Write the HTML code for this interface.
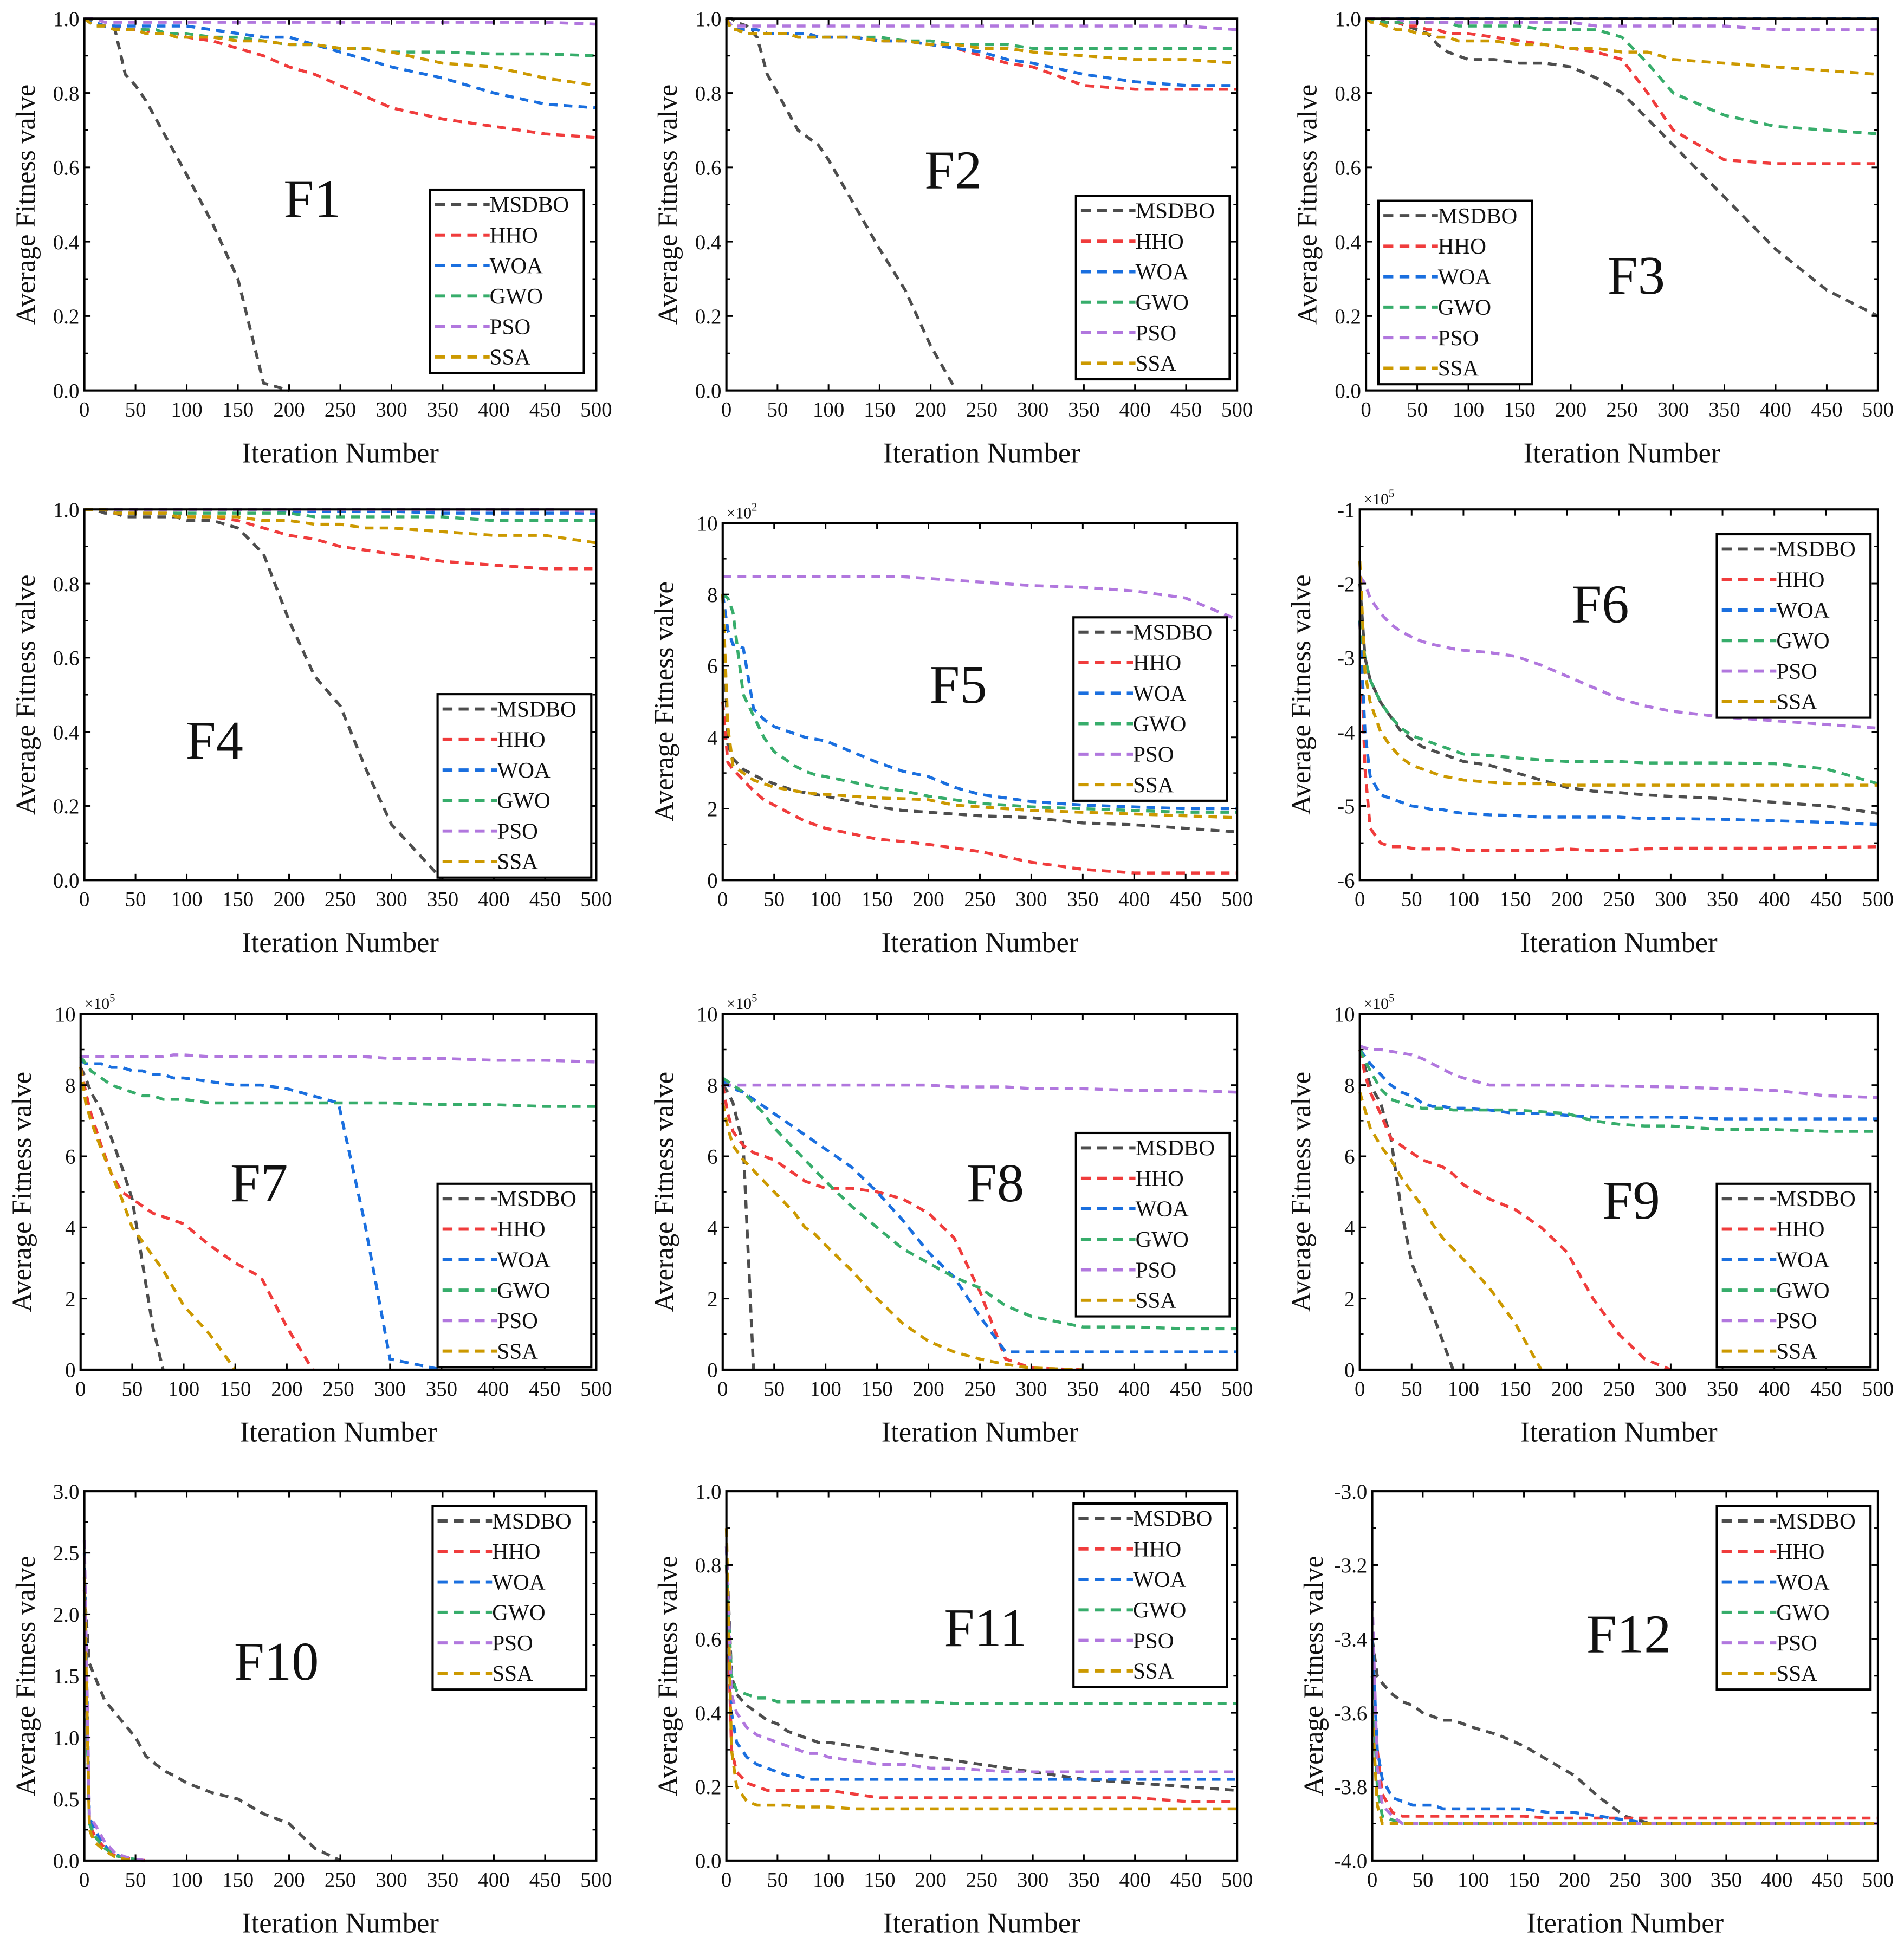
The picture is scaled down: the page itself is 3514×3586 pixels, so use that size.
<!DOCTYPE html>
<html><head><meta charset="utf-8"><title>Convergence curves F1-F12</title>
<style>
html,body{margin:0;padding:0;background:#fff;}
svg{display:block;font-family:"Liberation Serif","DejaVu Serif",serif;}
svg text{font-family:"Liberation Serif","DejaVu Serif",serif;fill:#111;}
</style></head>
<body>
<svg id="chart" xmlns="http://www.w3.org/2000/svg" width="3514" height="3586" viewBox="0 0 1536 1567.5" font-family="Liberation Serif, DejaVu Serif, serif"></svg>
<script>
// shared iteration grid
const ITERS = [0,5,10,20,30,40,50,60,70,80,90,100,125,150,175,200,225,250,275,300,350,400,450,500];
const SERIES_NAMES = ["MSDBO","HHO","WOA","GWO","PSO","SSA"];
const X_TICKS = [0,50,100,150,200,250,300,350,400,450,500];

const F1_MSDBO=[1,1,.99,.98,.97,.85,.82,.78,.73,.68,.63,.58,.45,.3,0.02,0,0,0,0,0,0,0,0,0];
const F1_HHO=[1,.99,.99,.98,.98,.97,.97,.97,.96,.96,.96,.95,.94,.92,.9,.87,.85,.82,.79,.76,.73,.71,.69,.68];
const F1_WOA=[1,.99,.99,.98,.98,.98,.98,.98,.98,.98,.98,.98,.97,.96,.95,.95,.93,.91,.89,.87,.84,.8,.77,.76];
const F1_GWO=[1,.99,.98,.98,.97,.97,.97,.97,.97,.96,.96,.96,.95,.95,.94,.93,.93,.92,.92,.91,.91,.905,.905,.9];
const F1_PSO=[1,1,1,.99,.99,.99,.99,.99,.99,.99,.99,.99,.99,.99,.99,.99,.99,.99,.99,.99,.99,.99,.99,.985];
const F1_SSA=[1,.99,.98,.98,.97,.97,.97,.96,.96,.96,.95,.95,.95,.94,.94,.93,.93,.92,.92,.91,.88,.87,.84,.82];

const F2_MSDBO=[1,1,.99,.98,.95,.85,.8,.75,.7,.68,.66,.62,.5,.38,.27,.12,0,0,0,0,0,0,0,0];
const F2_HHO=[1,.98,.97,.97,.97,.96,.96,.96,.96,.96,.95,.95,.95,.94,.94,.93,.92,.9,.88,.87,.82,.81,.81,.81];
const F2_WOA=[1,.98,.97,.97,.97,.96,.96,.96,.96,.96,.95,.95,.95,.94,.94,.93,.92,.91,.89,.88,.85,.83,.82,.82];
const F2_GWO=[1,.97,.97,.96,.96,.96,.96,.96,.95,.95,.95,.95,.95,.95,.94,.94,.93,.93,.93,.92,.92,.92,.92,.92];
const F2_PSO=[1,.98,.98,.98,.98,.98,.98,.98,.98,.98,.98,.98,.98,.98,.98,.98,.98,.98,.98,.98,.98,.98,.98,.97];
const F2_SSA=[1,.97,.97,.96,.96,.96,.96,.96,.95,.95,.95,.95,.95,.94,.94,.93,.93,.92,.92,.91,.9,.89,.89,.88];

const F3_MSDBO=[1,1,1,.99,.99,.98,.97,.96,.93,.91,.9,.89,.89,.88,.88,.87,.84,.8,.73,.66,.52,.38,.27,.2];
const F3_HHO=[1,1,.99,.99,.99,.98,.98,.97,.97,.96,.96,.96,.95,.94,.93,.92,.91,.89,.8,.7,.62,.61,.61,.61];
const F3_WOA=[1,1,1,1,1,1,1,1,1,1,1,1,1,1,1,1,1,1,1,1,1,1,1,1];
const F3_GWO=[1,1,.99,.99,.99,.99,.99,.99,.99,.99,.98,.98,.98,.98,.97,.97,.97,.95,.88,.8,.74,.71,.7,.69];
const F3_PSO=[1,1,1,1,1,.99,.99,.99,.99,.99,.99,.99,.99,.99,.99,.99,.98,.98,.98,.98,.98,.97,.97,.97];
const F3_SSA=[1,.99,.99,.98,.97,.97,.96,.96,.95,.95,.94,.94,.94,.93,.93,.92,.92,.91,.91,.89,.88,.87,.86,.85];

const F4_MSDBO=[1,1,1,.99,.99,.98,.98,.98,.98,.98,.98,.97,.97,.95,.88,.7,.55,.47,.3,.15,0,0,0,0];
const F4_HHO=[1,1,1,1,.99,.99,.99,.99,.99,.99,.99,.98,.98,.97,.95,.93,.92,.9,.89,.88,.86,.85,.84,.84];
const F4_WOA=[1,1,1,1,1,1,1,1,1,1,1,1,1,1,1,.995,.995,.995,.995,.995,.99,.99,.99,.99];
const F4_GWO=[1,1,1,1,1,.99,.99,.99,.99,.99,.99,.99,.99,.99,.99,.99,.98,.98,.98,.98,.98,.97,.97,.97];
const F4_PSO=[1,1,1,1,1,1,1,1,1,1,1,1,1,1,1,1,1,1,1,1,1,1,1,.995];
const F4_SSA=[1,1,1,1,.99,.99,.99,.99,.99,.99,.98,.98,.98,.98,.97,.97,.96,.96,.95,.95,.94,.93,.93,.91];

const F5_MSDBO=[8,3.8,3.4,3.1,2.95,2.8,2.7,2.6,2.5,2.45,2.4,2.35,2.2,2.05,1.95,1.9,1.85,1.8,1.78,1.75,1.6,1.55,1.45,1.35];
const F5_HHO=[5,3.3,3.1,2.8,2.5,2.25,2.1,1.95,1.8,1.65,1.55,1.45,1.3,1.15,1.08,1.0,0.9,0.8,0.65,0.5,0.3,0.2,0.2,0.2];
const F5_WOA=[8,7.0,6.6,6.5,4.8,4.5,4.3,4.2,4.1,4.0,3.95,3.9,3.6,3.3,3.05,2.9,2.6,2.4,2.3,2.2,2.1,2.05,2.0,2.0];
const F5_GWO=[8,7.9,7.5,5.2,4.6,4.0,3.6,3.4,3.2,3.05,2.95,2.9,2.75,2.6,2.5,2.35,2.25,2.15,2.1,2.05,2.0,1.95,1.9,1.9];
const F5_PSO=[8.5,8.5,8.5,8.5,8.5,8.5,8.5,8.5,8.5,8.5,8.5,8.5,8.5,8.5,8.5,8.45,8.4,8.35,8.3,8.25,8.2,8.1,7.9,7.3];
const F5_SSA=[8,4.3,3.2,3.0,2.8,2.7,2.6,2.55,2.5,2.45,2.42,2.4,2.35,2.3,2.28,2.25,2.1,2.05,2.0,1.95,1.9,1.85,1.8,1.75];

const F6_MSDBO=[-2,-3,-3.3,-3.6,-3.8,-4.0,-4.1,-4.2,-4.25,-4.3,-4.35,-4.4,-4.45,-4.55,-4.65,-4.75,-4.8,-4.82,-4.85,-4.87,-4.9,-4.95,-5.0,-5.1];
const F6_HHO=[-2.5,-4.5,-5.3,-5.5,-5.55,-5.55,-5.57,-5.58,-5.58,-5.58,-5.58,-5.6,-5.6,-5.6,-5.6,-5.58,-5.6,-5.6,-5.58,-5.57,-5.57,-5.57,-5.56,-5.55];
const F6_WOA=[-2.5,-4,-4.6,-4.85,-4.9,-4.95,-5.0,-5.02,-5.05,-5.05,-5.08,-5.1,-5.12,-5.13,-5.15,-5.15,-5.15,-5.15,-5.17,-5.17,-5.18,-5.2,-5.22,-5.25];
const F6_GWO=[-2.5,-3.0,-3.3,-3.6,-3.8,-3.95,-4.05,-4.1,-4.15,-4.2,-4.25,-4.3,-4.32,-4.35,-4.38,-4.4,-4.4,-4.4,-4.42,-4.42,-4.42,-4.43,-4.5,-4.7];
const F6_PSO=[-1.9,-2.0,-2.2,-2.4,-2.55,-2.65,-2.72,-2.78,-2.82,-2.85,-2.88,-2.9,-2.93,-2.98,-3.1,-3.25,-3.4,-3.55,-3.65,-3.72,-3.8,-3.85,-3.9,-3.95];
const F6_SSA=[-1.7,-3.2,-3.6,-4.0,-4.2,-4.35,-4.45,-4.5,-4.55,-4.6,-4.62,-4.65,-4.68,-4.7,-4.7,-4.72,-4.72,-4.72,-4.72,-4.72,-4.72,-4.72,-4.72,-4.72];

const F7_MSDBO=[8.5,8.2,7.8,7.3,6.5,5.7,4.8,3.0,1.2,0,0,0,0,0,0,0,0,0,0,0,0,0,0,0];
const F7_HHO=[8.5,7.8,7.2,6.3,5.5,5.0,4.8,4.6,4.4,4.3,4.2,4.1,3.5,3.0,2.6,1.2,0,0,0,0,0,0,0,0];
const F7_WOA=[8.7,8.6,8.6,8.6,8.5,8.5,8.4,8.4,8.3,8.3,8.2,8.2,8.1,8.0,8.0,7.9,7.7,7.5,4.2,0.3,0,0,0,0];
const F7_GWO=[8.8,8.6,8.4,8.2,8.0,7.9,7.8,7.7,7.7,7.6,7.6,7.6,7.5,7.5,7.5,7.5,7.5,7.5,7.5,7.5,7.45,7.45,7.4,7.4];
const F7_PSO=[8.8,8.8,8.8,8.8,8.8,8.8,8.8,8.8,8.8,8.8,8.85,8.85,8.8,8.8,8.8,8.8,8.8,8.8,8.8,8.75,8.75,8.7,8.7,8.65];
const F7_SSA=[8.5,7.5,7.0,6.2,5.5,4.8,4.0,3.6,3.2,2.8,2.3,1.8,1.0,0,0,0,0,0,0,0,0,0,0,0];

const F8_MSDBO=[8,7.8,7.5,6.3,0,0,0,0,0,0,0,0,0,0,0,0,0,0,0,0,0,0,0,0];
const F8_HHO=[8,7.2,6.7,6.3,6.1,6.0,5.9,5.7,5.5,5.3,5.2,5.1,5.1,5.0,4.8,4.4,3.7,2.2,0.3,0.05,0,0,0,0];
const F8_WOA=[8.1,8.0,7.9,7.8,7.6,7.4,7.2,7.0,6.8,6.6,6.4,6.2,5.7,5.0,4.2,3.3,2.6,1.5,0.5,0.5,0.5,0.5,0.5,0.5];
const F8_GWO=[8.2,8.1,8.0,7.8,7.5,7.2,6.8,6.5,6.2,5.9,5.6,5.3,4.6,4.0,3.4,3.0,2.6,2.3,1.8,1.5,1.2,1.2,1.15,1.15];
const F8_PSO=[8.0,8.0,8.0,8.0,8.0,8.0,8.0,8.0,8.0,8.0,8.0,8.0,8.0,8.0,8.0,8.0,7.95,7.95,7.95,7.9,7.9,7.85,7.85,7.8];
const F8_SSA=[7.5,6.8,6.3,5.9,5.6,5.3,5.0,4.7,4.4,4.0,3.8,3.5,2.8,2.0,1.3,0.8,0.5,0.3,0.15,0.05,0,0,0,0];

const F9_MSDBO=[9,8.5,8.0,7.5,6.5,4.5,3.0,2.3,1.6,0.8,0,0,0,0,0,0,0,0,0,0,0,0,0,0];
const F9_HHO=[9,8.3,7.8,7.2,6.5,6.3,6.1,5.9,5.8,5.7,5.5,5.2,4.8,4.5,4.0,3.3,2.0,1.0,0.3,0,0,0,0,0];
const F9_WOA=[9,8.8,8.6,8.3,8.0,7.8,7.7,7.5,7.4,7.4,7.35,7.35,7.3,7.2,7.2,7.15,7.1,7.1,7.1,7.1,7.05,7.05,7.05,7.05];
const F9_GWO=[9,8.7,8.4,7.9,7.6,7.5,7.4,7.35,7.35,7.35,7.3,7.3,7.3,7.3,7.25,7.2,7.0,6.9,6.85,6.85,6.75,6.75,6.7,6.7];
const F9_PSO=[9.1,9.05,9.0,9.0,8.95,8.9,8.85,8.75,8.6,8.45,8.3,8.2,8.0,8.0,8.0,8.0,7.98,7.97,7.96,7.95,7.9,7.85,7.7,7.65];
const F9_SSA=[7.8,7.3,6.8,6.3,5.9,5.4,5.0,4.6,4.1,3.7,3.4,3.1,2.3,1.3,0,0,0,0,0,0,0,0,0,0];

const F10_MSDBO=[2.2,1.6,1.5,1.3,1.2,1.1,1.0,0.85,0.78,0.72,0.68,0.63,0.55,0.5,0.38,0.3,0.1,0,0,0,0,0,0,0];
const F10_HHO=[2.2,0.3,0.2,0.1,0.04,0.02,0.01,0,0,0,0,0,0,0,0,0,0,0,0,0,0,0,0,0];
const F10_WOA=[2.5,0.35,0.25,0.12,0.05,0.02,0.01,0,0,0,0,0,0,0,0,0,0,0,0,0,0,0,0,0];
const F10_GWO=[2.0,0.3,0.2,0.1,0.04,0.02,0.01,0,0,0,0,0,0,0,0,0,0,0,0,0,0,0,0,0];
const F10_PSO=[2.6,0.35,0.3,0.15,0.06,0.03,0.01,0,0,0,0,0,0,0,0,0,0,0,0,0,0,0,0,0];
const F10_SSA=[2.3,0.25,0.15,0.08,0.03,0.01,0,0,0,0,0,0,0,0,0,0,0,0,0,0,0,0,0,0];

const F11_MSDBO=[.85,.5,.45,.42,.4,.38,.37,.35,.34,.33,.32,.32,.31,.3,.29,.28,.27,.26,.25,.24,.22,.21,.2,.19];
const F11_HHO=[.8,.3,.24,.21,.2,.19,.19,.19,.19,.19,.19,.19,.18,.17,.17,.17,.17,.17,.17,.17,.17,.17,.16,.16];
const F11_WOA=[.85,.4,.32,.28,.26,.25,.24,.23,.23,.22,.22,.22,.22,.22,.22,.22,.22,.22,.22,.22,.22,.22,.22,.22];
const F11_GWO=[.8,.5,.46,.45,.44,.44,.43,.43,.43,.43,.43,.43,.43,.43,.43,.43,.425,.425,.425,.425,.425,.425,.425,.425];
const F11_PSO=[.85,.45,.4,.36,.34,.33,.32,.31,.3,.29,.29,.28,.27,.26,.26,.25,.25,.245,.24,.24,.24,.24,.24,.24];
const F11_SSA=[.9,.3,.2,.16,.15,.15,.15,.15,.145,.145,.145,.145,.14,.14,.14,.14,.14,.14,.14,.14,.14,.14,.14,.14];

const F12_MSDBO=[-3.4,-3.5,-3.52,-3.55,-3.57,-3.58,-3.6,-3.61,-3.62,-3.62,-3.63,-3.64,-3.66,-3.69,-3.73,-3.77,-3.83,-3.88,-3.9,-3.9,-3.9,-3.9,-3.9,-3.9];
const F12_HHO=[-3.5,-3.7,-3.82,-3.87,-3.88,-3.88,-3.88,-3.88,-3.88,-3.88,-3.88,-3.88,-3.88,-3.88,-3.885,-3.885,-3.885,-3.885,-3.885,-3.885,-3.885,-3.885,-3.885,-3.885];
const F12_WOA=[-3.4,-3.7,-3.78,-3.83,-3.84,-3.85,-3.85,-3.85,-3.86,-3.86,-3.86,-3.86,-3.86,-3.86,-3.87,-3.87,-3.88,-3.89,-3.9,-3.9,-3.9,-3.9,-3.9,-3.9];
const F12_GWO=[-3.5,-3.8,-3.88,-3.89,-3.9,-3.9,-3.9,-3.9,-3.9,-3.9,-3.9,-3.9,-3.9,-3.9,-3.9,-3.9,-3.9,-3.9,-3.9,-3.9,-3.9,-3.9,-3.9,-3.9];
const F12_PSO=[-3.3,-3.75,-3.85,-3.88,-3.9,-3.9,-3.9,-3.9,-3.9,-3.9,-3.9,-3.9,-3.9,-3.9,-3.9,-3.9,-3.9,-3.9,-3.9,-3.9,-3.9,-3.9,-3.9,-3.9];
const F12_SSA=[-3.6,-3.85,-3.9,-3.9,-3.9,-3.9,-3.9,-3.9,-3.9,-3.9,-3.9,-3.9,-3.9,-3.9,-3.9,-3.9,-3.9,-3.9,-3.9,-3.9,-3.9,-3.9,-3.9,-3.9];

const TICKS_01 = ["0.0","0.2","0.4","0.6","0.8","1.0"];
const TICKS_010 = ["0","2","4","6","8","10"];
const TICKS_F6 = ["-6","-5","-4","-3","-2","-1"];
const TICKS_F10 = ["0.0","0.5","1.0","1.5","2.0","2.5","3.0"];
const TICKS_F12 = ["-4.0","-3.8","-3.6","-3.4","-3.2","-3.0"];

const COLORS = ["#4d4d4d","#f03c3c","#1a6fdf","#37ad6b","#b177de","#cc9900"];

const PANELS = [
 {id:"F1",x0:68,x1:481,y0:15,y1:315,ymin:0,ymax:1,ticks:TICKS_01,data:[F1_MSDBO,F1_HHO,F1_WOA,F1_GWO,F1_PSO,F1_SSA],lg:[347,153],lab:[252,175]},
 {id:"F2",x0:586,x1:998,y0:15,y1:315,ymin:0,ymax:1,ticks:TICKS_01,data:[F2_MSDBO,F2_HHO,F2_WOA,F2_GWO,F2_PSO,F2_SSA],lg:[868,158],lab:[769,152]},
 {id:"F3",x0:1102,x1:1515,y0:15,y1:315,ymin:0,ymax:1,ticks:TICKS_01,data:[F3_MSDBO,F3_HHO,F3_WOA,F3_GWO,F3_PSO,F3_SSA],lg:[1112,162],lab:[1320,237]},
 {id:"F4",x0:68,x1:481,y0:411,y1:710,ymin:0,ymax:1,ticks:TICKS_01,data:[F4_MSDBO,F4_HHO,F4_WOA,F4_GWO,F4_PSO,F4_SSA],lg:[353,560],lab:[173,612]},
 {id:"F5",x0:583,x1:998,y0:422,y1:710,ymin:0,ymax:10,ticks:TICKS_010,mult:"2",data:[F5_MSDBO,F5_HHO,F5_WOA,F5_GWO,F5_PSO,F5_SSA],lg:[866,498],lab:[773,567]},
 {id:"F6",x0:1097,x1:1515,y0:411,y1:710,ymin:-6,ymax:-1,ticks:TICKS_F6,mult:"5",data:[F6_MSDBO,F6_HHO,F6_WOA,F6_GWO,F6_PSO,F6_SSA],lg:[1385,431],lab:[1291,502]},
 {id:"F7",x0:65,x1:481,y0:818,y1:1105,ymin:0,ymax:10,ticks:TICKS_010,mult:"5",data:[F7_MSDBO,F7_HHO,F7_WOA,F7_GWO,F7_PSO,F7_SSA],lg:[353,955],lab:[209,969]},
 {id:"F8",x0:583,x1:998,y0:818,y1:1105,ymin:0,ymax:10,ticks:TICKS_010,mult:"5",data:[F8_MSDBO,F8_HHO,F8_WOA,F8_GWO,F8_PSO,F8_SSA],lg:[868,914],lab:[803,969]},
 {id:"F9",x0:1097,x1:1515,y0:818,y1:1105,ymin:0,ymax:10,ticks:TICKS_010,mult:"5",data:[F9_MSDBO,F9_HHO,F9_WOA,F9_GWO,F9_PSO,F9_SSA],lg:[1385,955],lab:[1316,983]},
 {id:"F10",x0:68,x1:481,y0:1203,y1:1501,ymin:0,ymax:3,ticks:TICKS_F10,data:[F10_MSDBO,F10_HHO,F10_WOA,F10_GWO,F10_PSO,F10_SSA],lg:[349,1215],lab:[223,1355]},
 {id:"F11",x0:586,x1:998,y0:1203,y1:1501,ymin:0,ymax:1,ticks:TICKS_01,data:[F11_MSDBO,F11_HHO,F11_WOA,F11_GWO,F11_PSO,F11_SSA],lg:[866,1213],lab:[795,1328]},
 {id:"F12",x0:1107,x1:1515,y0:1203,y1:1501,ymin:-4,ymax:-3,ticks:TICKS_F12,data:[F12_MSDBO,F12_HHO,F12_WOA,F12_GWO,F12_PSO,F12_SSA],lg:[1385,1215],lab:[1314,1333]}
];

const NS = "http://www.w3.org/2000/svg";
const FONT = "Liberation Serif, DejaVu Serif, serif";
const svg = document.getElementById("chart");
function mk(tag, attrs, parent){
  const e = document.createElementNS(NS, tag);
  for (const k in attrs) e.setAttribute(k, attrs[k]);
  if (tag === "text") e.setAttribute("font-family", FONT);
  (parent||svg).appendChild(e);
  return e;
}

PANELS.forEach(function(p){
  const key = p.id.toLowerCase();
  const g = mk("g", {});
  
  
  const xs = function(v){ return p.x0 + (v/500)*(p.x1-p.x0); };
  const ys = function(v){ return p.y1 - (v-p.ymin)/(p.ymax-p.ymin)*(p.y1-p.y0); };

  // series (stop at the first zero value, as in the original)
  p.data.forEach(function(vals, si){
    let d = "";
    for (let i = 0; i < vals.length; i++){
      d += (i?"L":"M") + xs(ITERS[i]).toFixed(2) + "," + ys(vals[i]).toFixed(2);
      if (p.ymin === 0 && vals[i] === 0) break;
    }
    const path = mk("path", {d:d, fill:"none", stroke:COLORS[si], "stroke-width":2.4, "stroke-dasharray":"7,5"}, g);
    
    
  });

  // frame
  const frame = mk("rect", {x:p.x0, y:p.y0, width:p.x1-p.x0, height:p.y1-p.y0, fill:"none", stroke:"#000", "stroke-width":1.8}, g);
  
  

  // x ticks
  const xt = mk("g", {}, g);
  
  
  X_TICKS.forEach(function(t){
    const x = xs(t);
    mk("line", {x1:x, y1:p.y1, x2:x, y2:p.y1-5, stroke:"#000", "stroke-width":1.3}, xt);
    mk("line", {x1:x, y1:p.y0, x2:x, y2:p.y0+5, stroke:"#000", "stroke-width":1.3}, xt);
    const tl = mk("text", {x:x, y:p.y1+21, "text-anchor":"middle", "font-size":17}, xt);
    tl.textContent = t;
    
    
  });
  const xl = mk("text", {x:(p.x0+p.x1)/2, y:p.y1+58, "text-anchor":"middle", "font-size":23}, g);
  xl.textContent = "Iteration Number";
  
  

  // y ticks
  const yt = mk("g", {}, g);
  
  
  const n = p.ticks.length;
  p.ticks.forEach(function(lbl, i){
    const v = p.ymin + (p.ymax-p.ymin)*i/(n-1);
    const y = ys(v);
    mk("line", {x1:p.x0, y1:y, x2:p.x0+5, y2:y, stroke:"#000", "stroke-width":1.3}, yt);
    mk("line", {x1:p.x1, y1:y, x2:p.x1-5, y2:y, stroke:"#000", "stroke-width":1.3}, yt);
    if (i < n-1){
      const ym = ys(v + (p.ymax-p.ymin)/(n-1)/2);
      mk("line", {x1:p.x0, y1:ym, x2:p.x0+3, y2:ym, stroke:"#000", "stroke-width":1.1}, yt);
      mk("line", {x1:p.x1, y1:ym, x2:p.x1-3, y2:ym, stroke:"#000", "stroke-width":1.1}, yt);
    }
    const tl = mk("text", {x:p.x0-4, y:y+6, "text-anchor":"end", "font-size":17}, yt);
    tl.textContent = lbl;
    
    
  });
  const cy = (p.y0+p.y1)/2;
  const yl = mk("text", {x:0, y:0, "text-anchor":"middle", "font-size":22, transform:"translate(" + (p.x0-40) + "," + cy + ") rotate(-90)"}, g);
  yl.textContent = "Average Fitness valve";
  
  

  if (p.mult){
    const mt = mk("text", {x:p.x0+3, y:p.y0-4, "font-size":13}, g);
    mt.textContent = "×10";
    const sup = mk("tspan", {dy:-6, "font-size":9}, mt);
    sup.textContent = p.mult;
    
    
  }

  // function label
  const fl = mk("text", {x:p.lab[0], y:p.lab[1], "text-anchor":"middle", "font-size":44}, g);
  fl.textContent = p.id;
  
  

  // legend
  const lg = mk("g", {}, g);
  
  
  const lx = p.lg[0], ly = p.lg[1];
  mk("rect", {x:lx, y:ly, width:124, height:148, fill:"#fff", stroke:"#000", "stroke-width":1.8}, lg);
  SERIES_NAMES.forEach(function(nm, si){
    const yy = ly + 12 + si*24.6;
    const ent = mk("g", {}, lg);
    
    
    mk("line", {x1:lx+4, y1:yy, x2:lx+48, y2:yy, stroke:COLORS[si], "stroke-width":2.6, "stroke-dasharray":"8,5"}, ent);
    const t = mk("text", {x:lx+48, y:yy+6, "font-size":18}, ent);
    t.textContent = nm;
  });
});
</script>
</body></html>
